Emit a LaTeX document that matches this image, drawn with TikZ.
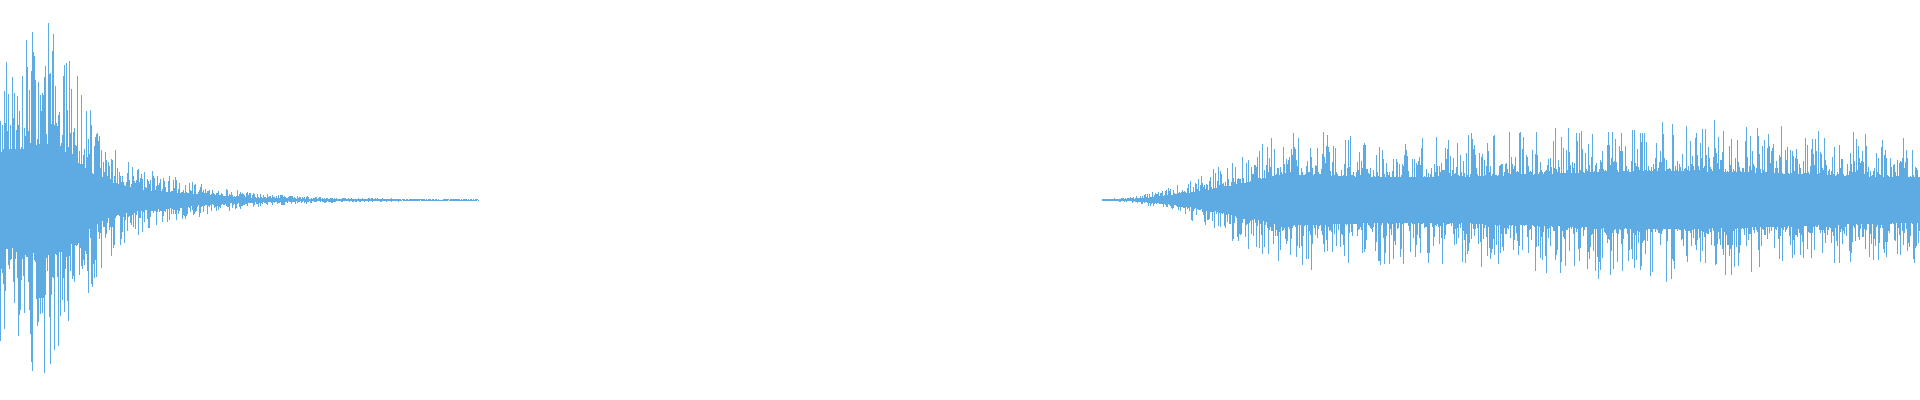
\documentclass[tikz,border=0pt]{standalone}
\usepackage{tikz}
\definecolor{wavecolor}{RGB}{93,171,226}
\begin{document}
\begin{tikzpicture}[x=0.01cm,y=0.01cm,wave/.style={draw=wavecolor,line width=0.2pt}]
\useasboundingbox (0,0) rectangle (1920,400);
\pgfmathsetseed{11}
% first burst, decaying
\foreach \i in {0,...,956}{
  \pgfmathsetmacro{\px}{\i*0.5}
  \pgfmathsetmacro{\env}{70*exp(-\px/40)+100*exp(-((\px-50)/40)^2)+60*exp(-(\px/165)^2)+6*exp(-\px/150)+1}
  \pgfmathsetmacro{\up}{\env*(0.3+0.7*rnd^3)}
  \pgfmathsetmacro{\dn}{\env*(0.3+0.7*rnd^3)}
  \draw[wave] (\px,200-\dn) -- (\px,200+\up);
}
% second part, rising noise
\foreach \i in {0,...,1636}{
  \pgfmathsetmacro{\px}{1102+\i*0.5}
  \pgfmathsetmacro{\r}{min(1,(\px-1102)/180)}
  \pgfmathsetmacro{\env}{1.5+72*\r^2*(1+0.12*sin(\px*0.7))}
  \pgfmathsetmacro{\up}{\env*(0.35+0.65*rnd^5)}
  \pgfmathsetmacro{\dn}{\env*(0.35+0.65*rnd^5)}
  \draw[wave] (\px,200-\dn) -- (\px,200+\up);
}
\end{tikzpicture}
\end{document}
